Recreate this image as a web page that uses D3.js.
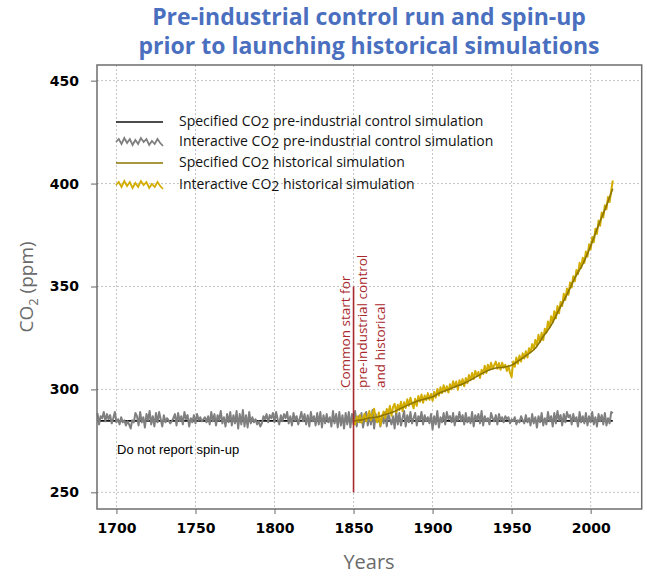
<!DOCTYPE html>
<html>
<head>
<meta charset="utf-8">
<script src="https://cdn.jsdelivr.net/npm/d3@7"></script>
<style>
  body { margin: 0; background: #fff; }
</style>
</head>
<body>
<div id="vis"></div>
<script>
var w = 647, h = 576;

// pre-industrial control run, yearly from ctrlStart
var ctrlStart = 1688, ctrlEnd = 2014;
var ctrlSpecified = 284.7;
var ctrlInteractive = [
  288.5,283.0,287.0,286.0,289.0,284.5,288.0,285.5,287.5,283.5,
  286.0,289.0,284.0,285.5,283.0,286.5,284.0,285.0,282.5,284.5,
  283.0,281.0,285.0,284.0,288.5,287.0,282.5,289.0,284.0,286.5,
  281.5,288.0,285.0,289.5,283.0,287.0,282.0,288.5,284.0,289.0,
  285.5,282.0,287.5,284.0,286.0,285.0,283.5,284.5,286.0,288.0,
  282.5,288.5,284.5,287.0,283.0,289.0,285.5,287.5,282.0,286.0,
  284.0,287.5,283.5,288.0,285.0,286.5,284.5,285.5,286.5,284.0,
  287.0,283.0,289.0,284.5,288.0,282.5,287.5,285.0,289.5,283.5,
  286.5,282.0,288.0,284.0,289.0,282.5,287.5,283.5,289.5,281.0,
  288.0,283.0,290.0,282.0,287.5,281.5,289.0,283.5,286.5,284.0,
  285.5,283.0,284.5,282.0,283.5,287.0,285.5,288.0,284.0,287.5,
  286.0,288.5,284.0,289.0,285.5,283.0,287.5,284.5,288.0,286.0,
  289.0,283.5,287.0,282.5,288.5,285.0,287.0,283.0,286.0,289.0,
  284.5,288.0,283.0,287.5,282.0,289.0,284.5,287.0,282.5,288.5,
  283.0,289.0,281.5,287.5,283.5,288.0,284.0,286.5,282.0,289.5,
  283.5,288.0,281.5,289.0,282.5,287.5,281.0,288.5,283.0,289.0,
  281.5,288.0,283.0,289.5,282.0,287.0,284.0,288.5,281.5,286.0,
  289.0,282.5,287.5,283.0,290.0,281.0,288.0,284.5,286.5,282.0,
  287.5,283.5,289.0,282.0,288.0,285.5,283.0,287.0,281.0,289.5,
  283.0,288.5,282.5,286.0,289.5,282.0,287.5,284.0,289.0,283.5,
  286.0,288.5,282.5,287.0,285.0,289.0,283.0,287.5,284.5,286.5,
  283.5,288.0,280.5,287.0,283.0,289.5,281.5,286.5,284.0,288.5,
  283.0,289.0,285.5,287.0,284.0,288.5,282.5,287.0,285.0,289.0,
  284.5,287.5,283.0,288.5,284.0,286.5,283.5,289.0,282.0,287.5,
  285.0,288.0,283.5,289.5,282.5,287.0,284.5,286.0,283.0,288.5,
  286.0,284.5,287.5,283.0,288.0,285.0,286.5,284.0,287.0,285.5,
  286.5,283.5,285.5,284.5,286.5,283.0,285.0,284.0,287.0,285.0,
  283.5,287.5,284.0,286.0,282.5,288.0,283.5,286.5,281.5,287.0,
  284.0,288.5,282.5,286.0,283.0,289.0,284.5,287.0,282.0,288.5,
  283.5,289.5,285.0,287.5,282.5,288.0,284.0,289.0,286.5,287.5,
  283.0,288.0,284.5,286.5,282.0,289.0,284.0,287.0,283.5,288.5,
  282.5,287.0,284.0,289.0,283.0,286.5,282.0,288.0,284.5,287.5,
  283.0,288.5,282.5,286.0,283.5,289.0,288.5
];

// historical simulation, specified CO2 (smooth)
var histYears = [1850,1855,1860,1865,1870,1875,1880,1885,1890,1895,1900,1905,1910,1915,1920,1925,
  1930,1935,1940,1945,1950,1955,1960,1965,1970,1975,1980,1985,1990,1995,2000,2005,2010,2014];
var histSpecified = [284.7,285.2,286.1,286.6,287.8,289.0,290.8,292.6,294.2,295.3,296.4,298.5,300.0,301.5,303.0,305.0,
  307.2,309.2,310.4,310.8,311.8,314.2,316.9,320.0,325.7,331.1,338.8,346.0,354.2,360.8,369.7,379.8,389.3,397.5];

// historical simulation, interactive CO2, yearly from histStart
var histStart = 1850;
var histInteractive = [
  285.5,283.0,286.8,284.2,287.5,283.8,286.0,288.2,284.5,287.0,
  289.5,285.0,288.0,290.6,286.2,284.0,288.8,282.5,286.5,289.2,
  286.0,290.5,288.4,292.0,287.2,291.5,293.0,288.8,292.5,290.0,
  294.0,289.5,293.8,291.0,295.2,292.0,296.0,293.2,290.8,295.5,
  292.0,296.8,294.0,297.5,293.5,297.0,294.8,298.2,295.0,297.8,
  294.5,298.8,296.0,300.2,297.0,301.0,298.2,302.0,299.0,301.5,
  298.5,302.5,300.0,304.0,301.0,303.8,299.8,304.5,302.0,305.0,
  301.5,305.5,303.0,307.0,304.5,308.0,305.0,309.0,306.5,308.5,
  305.5,309.5,307.5,311.5,308.0,312.0,309.5,313.0,310.0,311.8,
  313.5,310.0,312.8,309.5,313.0,310.5,312.0,309.0,311.5,308.0,
  306.0,313.5,311.0,315.5,312.5,316.5,313.5,317.5,315.0,318.5,
  315.5,320.0,318.0,322.0,319.5,324.0,321.5,326.5,323.0,327.5,
  324.0,329.5,327.5,333.0,330.0,335.5,332.5,338.0,334.5,340.5,
  337.0,342.5,340.5,346.5,343.5,349.0,346.0,352.0,349.5,355.0,
  352.5,358.0,356.0,361.5,359.0,364.0,361.5,367.0,364.5,370.5,
  368.0,374.0,371.5,378.0,375.5,382.0,379.5,386.0,383.5,389.5,
  387.5,393.5,391.0,396.5,401.5
];

var commonStart = 1850, markLow = 250, markHigh = 350;
var xTicks = [1700, 1750, 1800, 1850, 1900, 1950, 2000];
var yTicks = [250, 300, 350, 400, 450];

var legendLabels = [
  ["Specified CO", "2", " pre-industrial control simulation"],
  ["Interactive CO", "2", "  pre-industrial control simulation"],
  ["Specified CO", "2", " historical simulation"],
  ["Interactive CO", "2", " historical simulation"]
];
var legendWiggle = [0, -3, 2, -4, 1, -3, 3, -2, 2, -4, 0, -3, 3, -1, 2, -3, 1, 4];

var cBlack = "#111", cGrey = "#7f7f7f", cOlive = "#8c7400", cYellow = "#d2ad00", cRed = "#a8282c";
var font = "'Open Sans', Lato, sans-serif";

var x = d3.scaleLinear().domain([1687.7, 2032.3]).range([97, 641.7]);
var y = d3.scaleLinear().domain([241.9, 457.6]).range([509, 65]);

var svg = d3.select("#vis").append("svg")
    .attr("width", w)
    .attr("height", h)
    .style("font-family", font);

// grid
svg.append("g").selectAll("line")
    .data(xTicks)
  .enter().append("line")
    .attr("x1", function(d) { return x(d); })
    .attr("x2", function(d) { return x(d); })
    .attr("y1", y.range()[1])
    .attr("y2", y.range()[0])
    .attr("stroke", "#c4c4c4")
    .attr("stroke-dasharray", "2,2");
svg.append("g").selectAll("line")
    .data(yTicks)
  .enter().append("line")
    .attr("x1", x.range()[0])
    .attr("x2", x.range()[1])
    .attr("y1", function(d) { return y(d); })
    .attr("y2", function(d) { return y(d); })
    .attr("stroke", "#c4c4c4")
    .attr("stroke-dasharray", "2,2");

// axes
var xAxis = svg.append("g")
    .attr("transform", "translate(0," + y.range()[0] + ")")
    .call(d3.axisBottom(x).tickValues(xTicks).tickFormat(d3.format("d")).tickSize(5).tickPadding(9));
var yAxis = svg.append("g")
    .attr("transform", "translate(" + x.range()[0] + ",0)")
    .call(d3.axisLeft(y).tickValues(yTicks).tickSize(6).tickPadding(12));
[xAxis, yAxis].forEach(function(a) {
  a.select(".domain").remove();
  a.selectAll(".tick line").attr("stroke", "#666");
  a.selectAll("text")
      .attr("fill", "#000")
      .style("font-family", "'DejaVu Sans', sans-serif")
      .style("font-weight", "bold")
      .style("font-size", "14px");
});

// lines
var line = d3.line()
    .x(function(d) { return x(d[0]); })
    .y(function(d) { return y(d[1]); });

svg.append("path")
    .datum([[ctrlStart, ctrlSpecified], [ctrlEnd, ctrlSpecified]])
    .attr("d", line)
    .attr("fill", "none")
    .attr("stroke", cBlack)
    .attr("stroke-width", 1.6);

svg.append("path")
    .datum(ctrlInteractive.map(function(v, i) { return [ctrlStart + i, v]; }))
    .attr("d", line)
    .attr("fill", "none")
    .attr("stroke", cGrey)
    .attr("stroke-width", 2)
    .attr("stroke-linejoin", "round");

svg.append("path")
    .datum(histInteractive.map(function(v, i) { return [histStart + i, v]; }))
    .attr("d", line)
    .attr("fill", "none")
    .attr("stroke", cYellow)
    .attr("stroke-width", 2)
    .attr("stroke-linejoin", "round");

svg.append("path")
    .datum(histYears.map(function(yr, i) { return [yr, histSpecified[i]]; }))
    .attr("d", line.curve(d3.curveMonotoneX))
    .attr("fill", "none")
    .attr("stroke", cOlive)
    .attr("stroke-width", 1.6);
line.curve(d3.curveLinear);

// common start marker
svg.append("line")
    .attr("x1", x(commonStart)).attr("x2", x(commonStart))
    .attr("y1", y(markLow)).attr("y2", y(markHigh))
    .attr("stroke", cRed)
    .attr("stroke-width", 1.6);

var note = svg.append("text")
    .attr("transform", "translate(" + (x(commonStart) - 4) + ",388) rotate(-90)")
    .attr("fill", cRed)
    .style("font-size", "13.5px");
["Common start for", "pre-industrial control", "and historical"].forEach(function(t, i) {
  note.append("tspan").attr("x", 0).attr("dy", i ? 17.5 : 0).text(t);
});

svg.append("text")
    .attr("x", 117)
    .attr("y", 454)
    .style("font-family", "'Liberation Sans', Arial, sans-serif")
    .style("font-size", "13px")
    .attr("fill", "#000")
    .text("Do not report spin-up");

// frame
svg.append("rect")
    .attr("x", x.range()[0])
    .attr("y", y.range()[1])
    .attr("width", x.range()[1] - x.range()[0])
    .attr("height", y.range()[0] - y.range()[1])
    .attr("fill", "none")
    .attr("stroke", "#6e6e6e")
    .attr("stroke-width", 1.5);

// legend
var legendRows = [122, 142, 163, 185];
var legendStyle = [
  {c: cBlack, wig: false},
  {c: cGrey, wig: true},
  {c: cOlive, wig: false},
  {c: cYellow, wig: true}
];
var lx = d3.scaleLinear().domain([0, legendWiggle.length - 1]).range([116, 163]);
legendLabels.forEach(function(lab, i) {
  var ly = legendRows[i], st = legendStyle[i];
  var pts = st.wig
      ? legendWiggle.map(function(v, k) { return [lx(k), ly + v]; })
      : [[116, ly], [163, ly]];
  svg.append("path")
      .attr("d", d3.line()(pts))
      .attr("fill", "none")
      .attr("stroke", st.c)
      .attr("stroke-width", st.wig ? 1.8 : 1.6);
  var t = svg.append("text")
      .attr("x", 179)
      .attr("y", ly + 4)
      .attr("fill", "#111")
      .style("font-size", "14px");
  t.append("tspan").text(lab[0]);
  t.append("tspan").attr("dy", 2).text(lab[1]);
  t.append("tspan").attr("dy", -2).text(lab[2]);
});

// titles
svg.append("text")
    .attr("x", 369).attr("y", 25)
    .attr("text-anchor", "middle")
    .attr("fill", "#4a6fbf")
    .style("font-size", "23px")
    .style("font-weight", "bold")
    .text("Pre-industrial control run and spin-up");
svg.append("text")
    .attr("x", 369).attr("y", 54)
    .attr("text-anchor", "middle")
    .attr("fill", "#4a6fbf")
    .style("font-size", "23px")
    .style("font-weight", "bold")
    .text("prior to launching historical simulations");

var yt = svg.append("text")
    .attr("transform", "translate(33,287) rotate(-90)")
    .attr("text-anchor", "middle")
    .attr("fill", "#6a6a6a")
    .style("font-size", "19px");
yt.append("tspan").text("CO");
yt.append("tspan").attr("dy", 5).style("font-size", "13px").text("2");
yt.append("tspan").attr("dy", -5).text(" (ppm)");

svg.append("text")
    .attr("x", 369).attr("y", 569)
    .attr("text-anchor", "middle")
    .attr("fill", "#6a6a6a")
    .style("font-size", "20px")
    .text("Years");
</script>
</body>
</html>
